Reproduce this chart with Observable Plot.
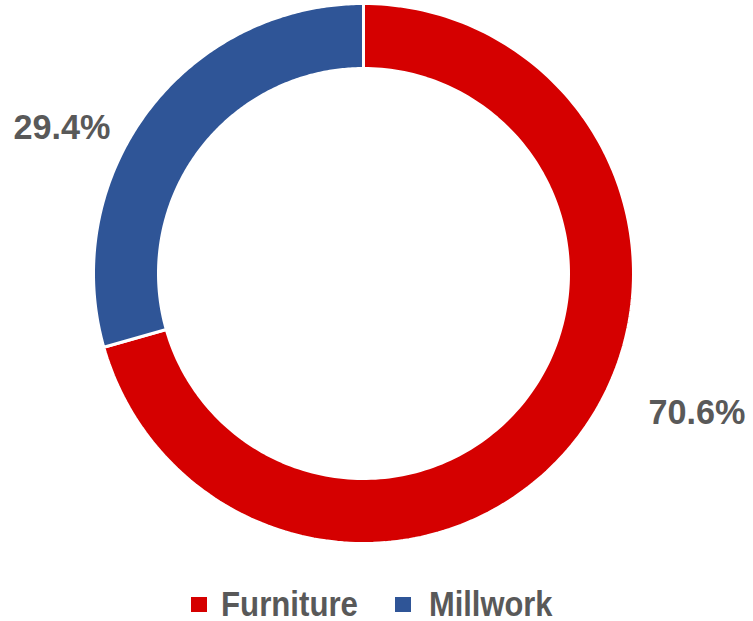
<!DOCTYPE html>
<html>
<head>
<meta charset="utf-8">
<script src="https://cdn.jsdelivr.net/npm/d3@7"></script>
<script src="https://cdn.jsdelivr.net/npm/@observablehq/plot@0.6"></script>
<style>
  html, body { margin: 0; padding: 0; background: #fff; }
  #chart { width: 753px; }
  svg { display: block; }
</style>
</head>
<body>
<div id="chart"></div>
<script>
const categories = ["Furniture", "Millwork"];
const shares = [70.6, 29.4];
const labels = ["70.6%", "29.4%"];
const colors = ["#D50000", "#2F5597"];

const FONT = '"Liberation Sans Narrow", "Arial Narrow", "Liberation Sans", Arial, sans-serif';

const inner = 205 / 270;
const total = d3.sum(shares);
let start = 0;
const polys = [];
categories.forEach((c, i) => {
  const a0 = start / total * 2 * Math.PI;
  const a1 = (start + shares[i]) / total * 2 * Math.PI;
  start += shares[i];
  const n = 200;
  const pts = [];
  for (let k = 0; k <= n; k++) {
    const a = a0 + (a1 - a0) * k / n;
    pts.push({cat: c, x: Math.sin(a), y: Math.cos(a)});
  }
  for (let k = n; k >= 0; k--) {
    const a = a0 + (a1 - a0) * k / n;
    pts.push({cat: c, x: inner * Math.sin(a), y: inner * Math.cos(a)});
  }
  pts.push({...pts[0]});
  polys.push(...pts);
});

const labelPos = [
  {text: labels[0], x: 1.235, y: -0.517},
  {text: labels[1], x: -1.117, y: 0.541}
];

const plot = Plot.plot({
  width: 753,
  height: 560,
  margin: 0,
  x: {domain: [-1, 1], range: [93, 633], axis: null},
  y: {domain: [-1, 1], range: [543, 3], axis: null},
  color: {domain: categories, range: colors},
  style: {fontFamily: FONT, background: "white"},
  marks: [
    Plot.line(polys, {x: "x", y: "y", z: "cat", fill: "cat", stroke: "white", strokeWidth: 3, curve: "linear"}),
    Plot.text(labelPos, {x: "x", y: "y", text: "text", fontSize: 35, fontWeight: "bold", fill: "#595959"})
  ]
});
document.getElementById("chart").appendChild(plot);

// fit a text element horizontally to the condensed width seen in the reference
function fitWidth(el, target) {
  const w = el.getBBox().width;
  if (w > 0) {
    const t = el.getAttribute("transform") || "";
    el.setAttribute("transform", t + ` scale(${(target / w).toFixed(4)},1)`);
  }
}
d3.select(plot).selectAll("text").each(function() { fitWidth(this, 97); });

// legend below the plot
const leg = d3.select("#chart").append("svg")
  .attr("width", 753).attr("height", 61)
  .style("font-family", FONT);
const legX = [{sq: 191, tx: 221, w: 137}, {sq: 395, tx: 429, w: 124}];
categories.forEach((c, i) => {
  leg.append("rect").attr("x", legX[i].sq).attr("y", 37).attr("width", 16).attr("height", 15).attr("fill", colors[i]);
  const t = leg.append("text").attr("transform", `translate(${legX[i].tx},56)`)
    .attr("font-size", 35).attr("font-weight", "bold").attr("fill", "#595959").text(c);
  fitWidth(t.node(), legX[i].w);
});
</script>
</body>
</html>
